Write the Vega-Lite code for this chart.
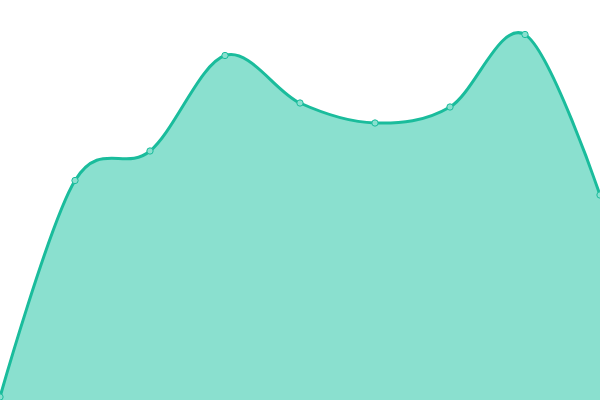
{
  "$schema": "https://vega.github.io/schema/vega-lite/v6.json",
  "width": 600,
  "height": 400,
  "autosize": {"type": "none"},
  "padding": 0,
  "background": "white",
  "view": {"stroke": null},
  "data": {
    "values": [
      {"x": 0, "y": 3},
      {"x": 1, "y": 219.5},
      {"x": 2, "y": 249},
      {"x": 3, "y": 344.5},
      {"x": 4, "y": 297},
      {"x": 5, "y": 277},
      {"x": 6, "y": 293},
      {"x": 7, "y": 365.5},
      {"x": 8, "y": 205}
    ]
  },
  "encoding": {
    "x": {"field": "x", "type": "quantitative", "scale": {"domain": [0, 8], "nice": false}, "axis": null},
    "y": {"field": "y", "type": "quantitative", "scale": {"domain": [0, 400], "nice": false}, "axis": null}
  },
  "layer": [
    {
      "mark": {"type": "area", "interpolate": "cardinal", "color": "#8ae0cf", "opacity": 1, "clip": true}
    },
    {
      "mark": {"type": "line", "interpolate": "cardinal", "color": "#1abc9c", "strokeWidth": 3, "clip": true}
    },
    {
      "mark": {"type": "point", "filled": true, "fill": "#8ae0cf", "stroke": "#1abc9c", "strokeWidth": 1, "size": 40, "opacity": 1}
    }
  ]
}
